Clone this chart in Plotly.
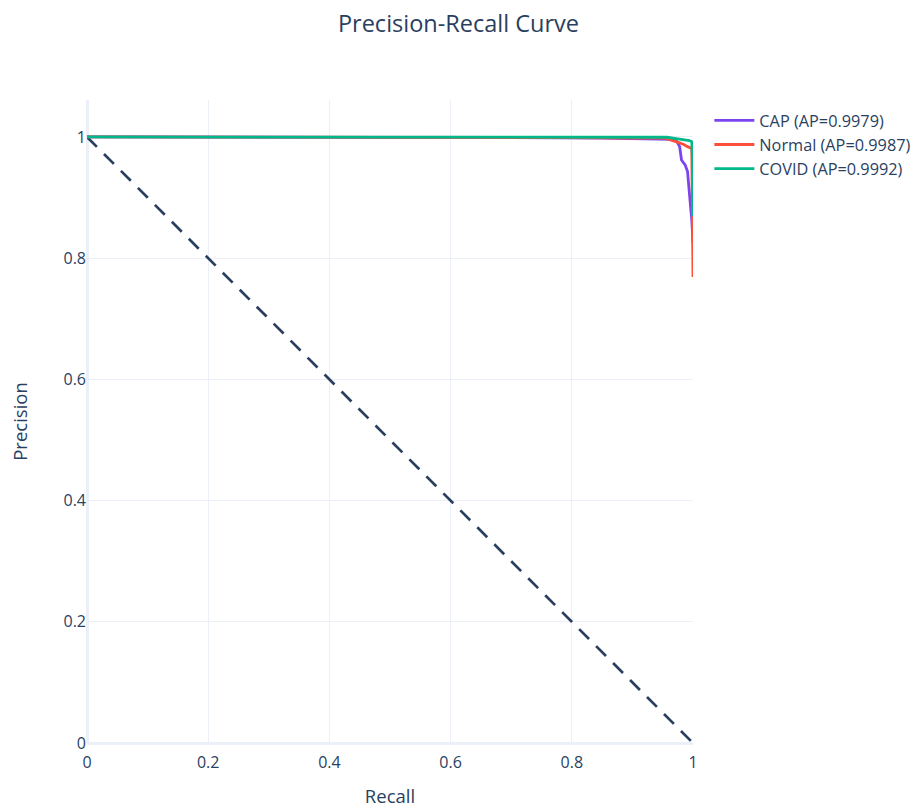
import plotly.graph_objects as go

# ---- data ----
classes = ["CAP", "Normal", "COVID"]
ap_scores = [0.9979, 0.9987, 0.9992]

cap_recall = [0.0, 0.1, 0.3, 0.5, 0.7, 0.85, 0.9, 0.95, 0.965, 0.973, 0.978,
              0.981, 0.987, 0.991, 0.992, 0.995, 0.998, 1.0]
cap_precision = [1.0, 1.0, 0.9995, 0.999, 0.999, 0.998, 0.997, 0.997, 0.996,
                 0.993, 0.984, 0.962, 0.954, 0.943, 0.929, 0.896, 0.863, 0.825]

normal_recall = [0.0, 0.2, 0.4, 0.6, 0.8, 0.9, 0.954, 0.973, 0.984, 0.991,
                 0.998, 0.999, 1.0]
normal_precision = [1.0, 1.0, 0.9995, 0.999, 0.999, 0.998, 0.998, 0.992,
                    0.988, 0.984, 0.981, 0.87, 0.769]

covid_recall = [0.0, 0.2, 0.4, 0.6, 0.8, 0.9, 0.957, 0.975, 0.994, 0.998,
                0.9995, 1.0]
covid_precision = [1.0, 1.0, 1.0, 1.0, 1.0, 0.9995, 0.9995, 0.997, 0.994,
                   0.992, 0.95, 0.869]

baseline_recall = [0.0, 1.0]
baseline_precision = [1.0, 0.0]

colors = ["#7a45f0", "#fb4f3a", "#00b88a"]

fig = go.Figure()
fig.add_trace(go.Scatter(
    x=baseline_recall, y=baseline_precision, mode="lines",
    line=dict(color="#2a3f5f", width=2.7, dash="14px,10px"),
    showlegend=False, hoverinfo="skip"))

series = [(cap_recall, cap_precision), (normal_recall, normal_precision),
          (covid_recall, covid_precision)]
for name, ap, (r, p), c in zip(classes, ap_scores, series, colors):
    fig.add_trace(go.Scatter(
        x=r, y=p, mode="lines", name=f"{name} (AP={ap:.4f})",
        line=dict(color=c, width=2.8)))

fig.update_layout(
    template="plotly_white",
    width=917, height=808,
    margin=dict(l=87, r=224, t=100, b=65, autoexpand=False),
    font=dict(family="Open Sans", size=16, color="#2a3f5f"),
    title=dict(text="Precision-Recall Curve", x=0.5, xanchor="center",
               y=0.97, yanchor="middle", font=dict(size=23.5)),
    legend=dict(font=dict(size=16.3), itemwidth=40, x=1.027, xanchor="left",
                y=0.995, yanchor="top"),
    xaxis=dict(title=dict(text="Recall", font=dict(size=18.5), standoff=34),
               range=[0, 1], dtick=0.2, zeroline=True, zerolinewidth=2.5,
               gridwidth=1.3, automargin=False, ticklabelstandoff=8),
    yaxis=dict(title=dict(text="Precision", font=dict(size=18.5), standoff=31),
               range=[0, 1.061], dtick=0.2, zeroline=True, zerolinewidth=2.5,
               gridwidth=1.3, automargin=False),
)

fig.write_html("out.html")
